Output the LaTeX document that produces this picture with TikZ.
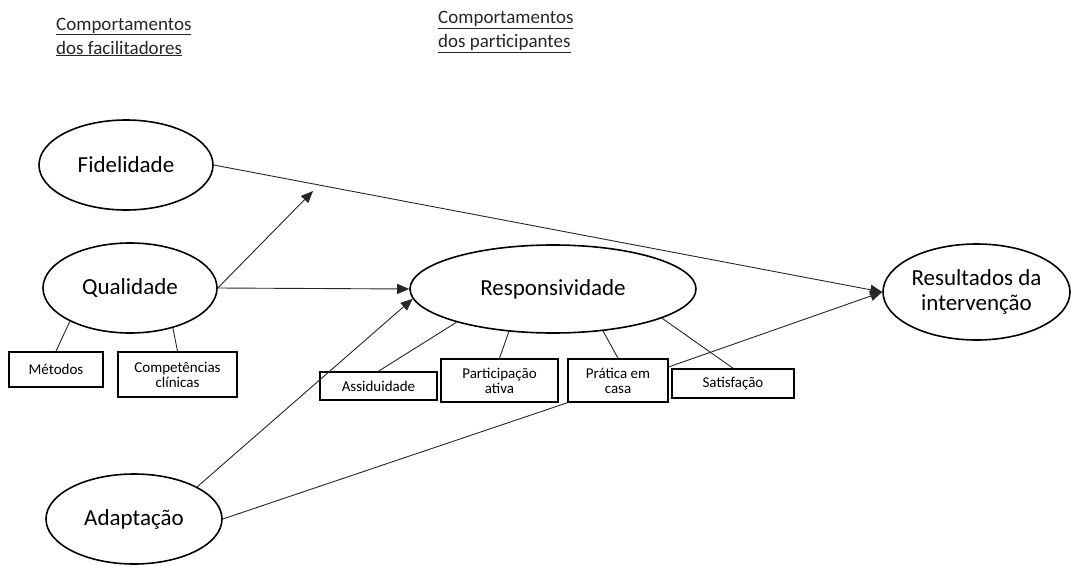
\documentclass[tikz,border=0pt]{standalone}
\usepackage{fontspec}
\setmainfont{Carlito}
\usetikzlibrary{shapes.geometric,arrows.meta}
\tikzset{
  ell/.style={draw, ellipse, line width=1.6pt, inner sep=0pt, align=center, font=\fontsize{23}{25}\selectfont},
  bx/.style={draw, rectangle, line width=1.6pt, inner sep=0pt, align=center, font=\fontsize{15}{15}\selectfont},
  conn/.style={line width=0.9pt, draw=black!85},
  arr/.style={conn, -{Triangle[length=12pt,width=10pt]}},
  hdr/.style={align=left, inner sep=0pt, text=black!85, font=\fontsize{19}{24}\selectfont}
}
\begin{document}
\begin{tikzpicture}[x=1pt,y=-1pt]
\useasboundingbox (0,0) rectangle (1071,565);
% headers
\node[hdr, anchor=west] (h1) at (56,37) {\underline{Comportamentos}\\\underline{dos facilitadores}};
\node[hdr, anchor=west] (h2) at (438,32) {\underline{Comportamentos}\\\underline{dos participantes}};
% ellipses
\node[ell, minimum width=174pt, minimum height=90pt] (fid) at (126,165) {Fidelidade};
\node[ell, minimum width=174pt, minimum height=90pt] (qual) at (130,288) {Qualidade};
\node[ell, minimum width=176pt, minimum height=90pt] (ada) at (134,519) {Adaptação};
\node[ell, minimum width=286pt, minimum height=88pt] (resp) at (553,289) {Responsividade};
\node[ell, minimum width=187pt, minimum height=96pt] (res) at (976.5,292) {Resultados da\\intervenção};
% boxes
\node[bx, minimum width=94pt, minimum height=35pt] (met) at (56,369.5) {Métodos};
\node[bx, minimum width=119pt, minimum height=45pt] (comp) at (177.5,374.5) {Competências\\clínicas};
\node[bx, minimum width=117pt, minimum height=28pt] (assid) at (378.5,386) {Assiduidade};
\node[bx, minimum width=117pt, minimum height=43pt] (part) at (499.5,380.5) {Participação\\ativa};
\node[bx, minimum width=100pt, minimum height=43pt] (pra) at (618,380.5) {Prática em\\casa};
\node[bx, minimum width=122pt, minimum height=29pt] (sat) at (733,383.5) {Satisfação};
\coordinate (mod) at (313,191);
% connectors
\draw[arr] (fid.east) -- (res.west);
\draw[arr] (qual.east) -- (mod);
\draw[arr] (qual.east) -- (resp.west);
\draw[arr] (ada.27) -- (resp.184);
\draw[conn] (ada.east) -- (pra.south west);
\draw[arr] (pra.15) -- (res.west);
\draw[conn] (qual.209) -- (met.north);
\draw[conn] (qual.317) -- (comp.north);
\draw[conn] (resp.199) -- (assid.north);
\draw[conn] (resp.224) -- (part.north);
\draw[conn] (resp.320) -- (pra.north);
\draw[conn] (resp.345) -- (sat.north);
\end{tikzpicture}
\end{document}
